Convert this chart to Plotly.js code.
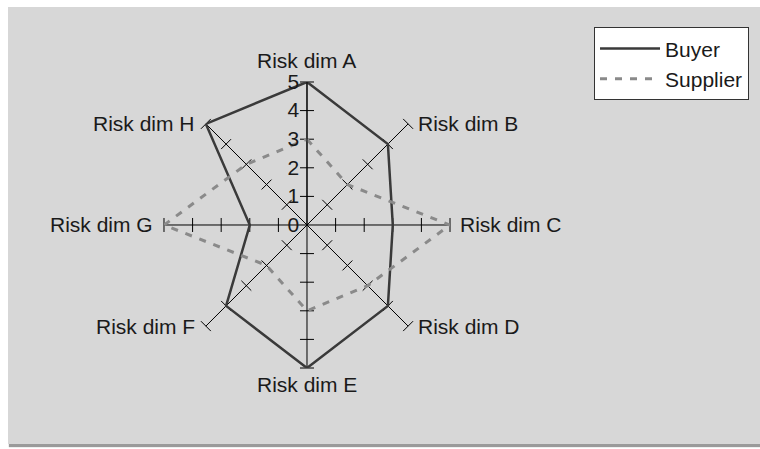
<!DOCTYPE html>
<html>
<head>
<meta charset="utf-8">
<script src="https://cdn.plot.ly/plotly-3.0.1.min.js"></script>
<style>
  body { margin: 0; background: #fff; }
  #plot { position: absolute; left: 8px; top: 7px; width: 752px; height: 437px;
          box-shadow: 1px 3px 1px #9a9a9a; }
</style>
</head>
<body>
<div id="plot"></div>
<script>
// Radar chart - buyer vs supplier risk
var dims = ["Risk dim A", "Risk dim B", "Risk dim C", "Risk dim D",
  "Risk dim E", "Risk dim F", "Risk dim G", "Risk dim H"];
var buyer = [5, 4, 3, 4, 5, 4, 2, 5];
var supplier = [3, 2, 5, 3, 3, 2, 5, 3];
var tickVals = [1, 2, 3, 4, 5];

var W = 752, H = 437;
var domX = [0.2074, 0.5878], domY = [0.1739, 0.8284];

// close the loops
function closed(arr) { return arr.concat([arr[0]]); }

// little cross ticks on every spoke
var tickR = [], tickTheta = [], tickAngle = [];
dims.forEach(function (d, i) {
  tickVals.forEach(function (v) {
    tickR.push(v);
    tickTheta.push(d);
    tickAngle.push(i * 360 / dims.length);
  });
});

var ticks = {
  type: "scatterpolar",
  r: tickR,
  theta: tickTheta,
  mode: "markers",
  marker: { symbol: "line-ew", size: 10, angle: tickAngle,
    line: { color: "#000", width: 1 } },
  showlegend: false,
  hoverinfo: "skip"
};

var buyerTrace = {
  type: "scatterpolar",
  r: closed(buyer),
  theta: closed(dims),
  mode: "lines",
  name: "Buyer",
  line: { color: "#3a3a3a", width: 2.5 }
};

var supplierTrace = {
  type: "scatterpolar",
  r: closed(supplier),
  theta: closed(dims),
  mode: "lines",
  name: "Supplier",
  line: { color: "#8a8a8a", width: 3, dash: "7px,8px" }
};

var data = [ticks, buyerTrace, supplierTrace];

// category labels sit just past the end of each spoke, Excel style
var cx = (domX[0] + domX[1]) / 2, cy = (domY[0] + domY[1]) / 2;
var rpx = (domX[1] - domX[0]) * W / 2;
var annotations = dims.map(function (d, i) {
  var a = (90 - i * 360 / dims.length) * Math.PI / 180;
  var c = Math.cos(a), s = Math.sin(a);
  var ann = {
    text: d, showarrow: false, xref: "paper", yref: "paper",
    x: cx + rpx * c / W, y: cy + rpx * s / H,
    xanchor: "center", yanchor: "middle"
  };
  if (c > 0.1) { ann.xanchor = "left"; ann.xshift = 8; }
  else if (c < -0.1) { ann.xanchor = "right"; ann.xshift = -9; }
  else if (s > 0) { ann.yanchor = "bottom"; ann.yshift = 8; }
  else { ann.yanchor = "top"; ann.yshift = -3; }
  return ann;
});

var layout = {
  width: W,
  height: H,
  margin: { l: 0, r: 0, t: 0, b: 0 },
  paper_bgcolor: "#d7d7d7",
  font: { family: "Liberation Sans, Arial, sans-serif", size: 21, color: "#1a1a1a" },
  showlegend: true,
  legend: {
    x: 0.9854, y: 0.9535, xanchor: "right", yanchor: "top",
    bgcolor: "#fff", bordercolor: "#333", borderwidth: 1,
    itemwidth: 60, font: { size: 21 }, tracegroupgap: 0
  },
  annotations: annotations,
  polar: {
    domain: { x: domX, y: domY },
    bgcolor: "rgba(0,0,0,0)",
    radialaxis: {
      range: [0, 5],
      angle: 90,
      tickvals: [0, 1, 2, 3, 4, 5],
      ticks: "",
      tickangle: 90,
      showgrid: false,
      showline: true,
      linecolor: "#000",
      linewidth: 1,
      side: "counterclockwise",
      tickfont: { size: 21 }
    },
    angularaxis: {
      direction: "clockwise",
      rotation: 90,
      showline: false,
      showgrid: true,
      gridcolor: "#000",
      gridwidth: 1,
      ticks: "",
      showticklabels: false
    }
  }
};

Plotly.newPlot("plot", data, layout, { displayModeBar: false });
</script>
</body>
</html>
